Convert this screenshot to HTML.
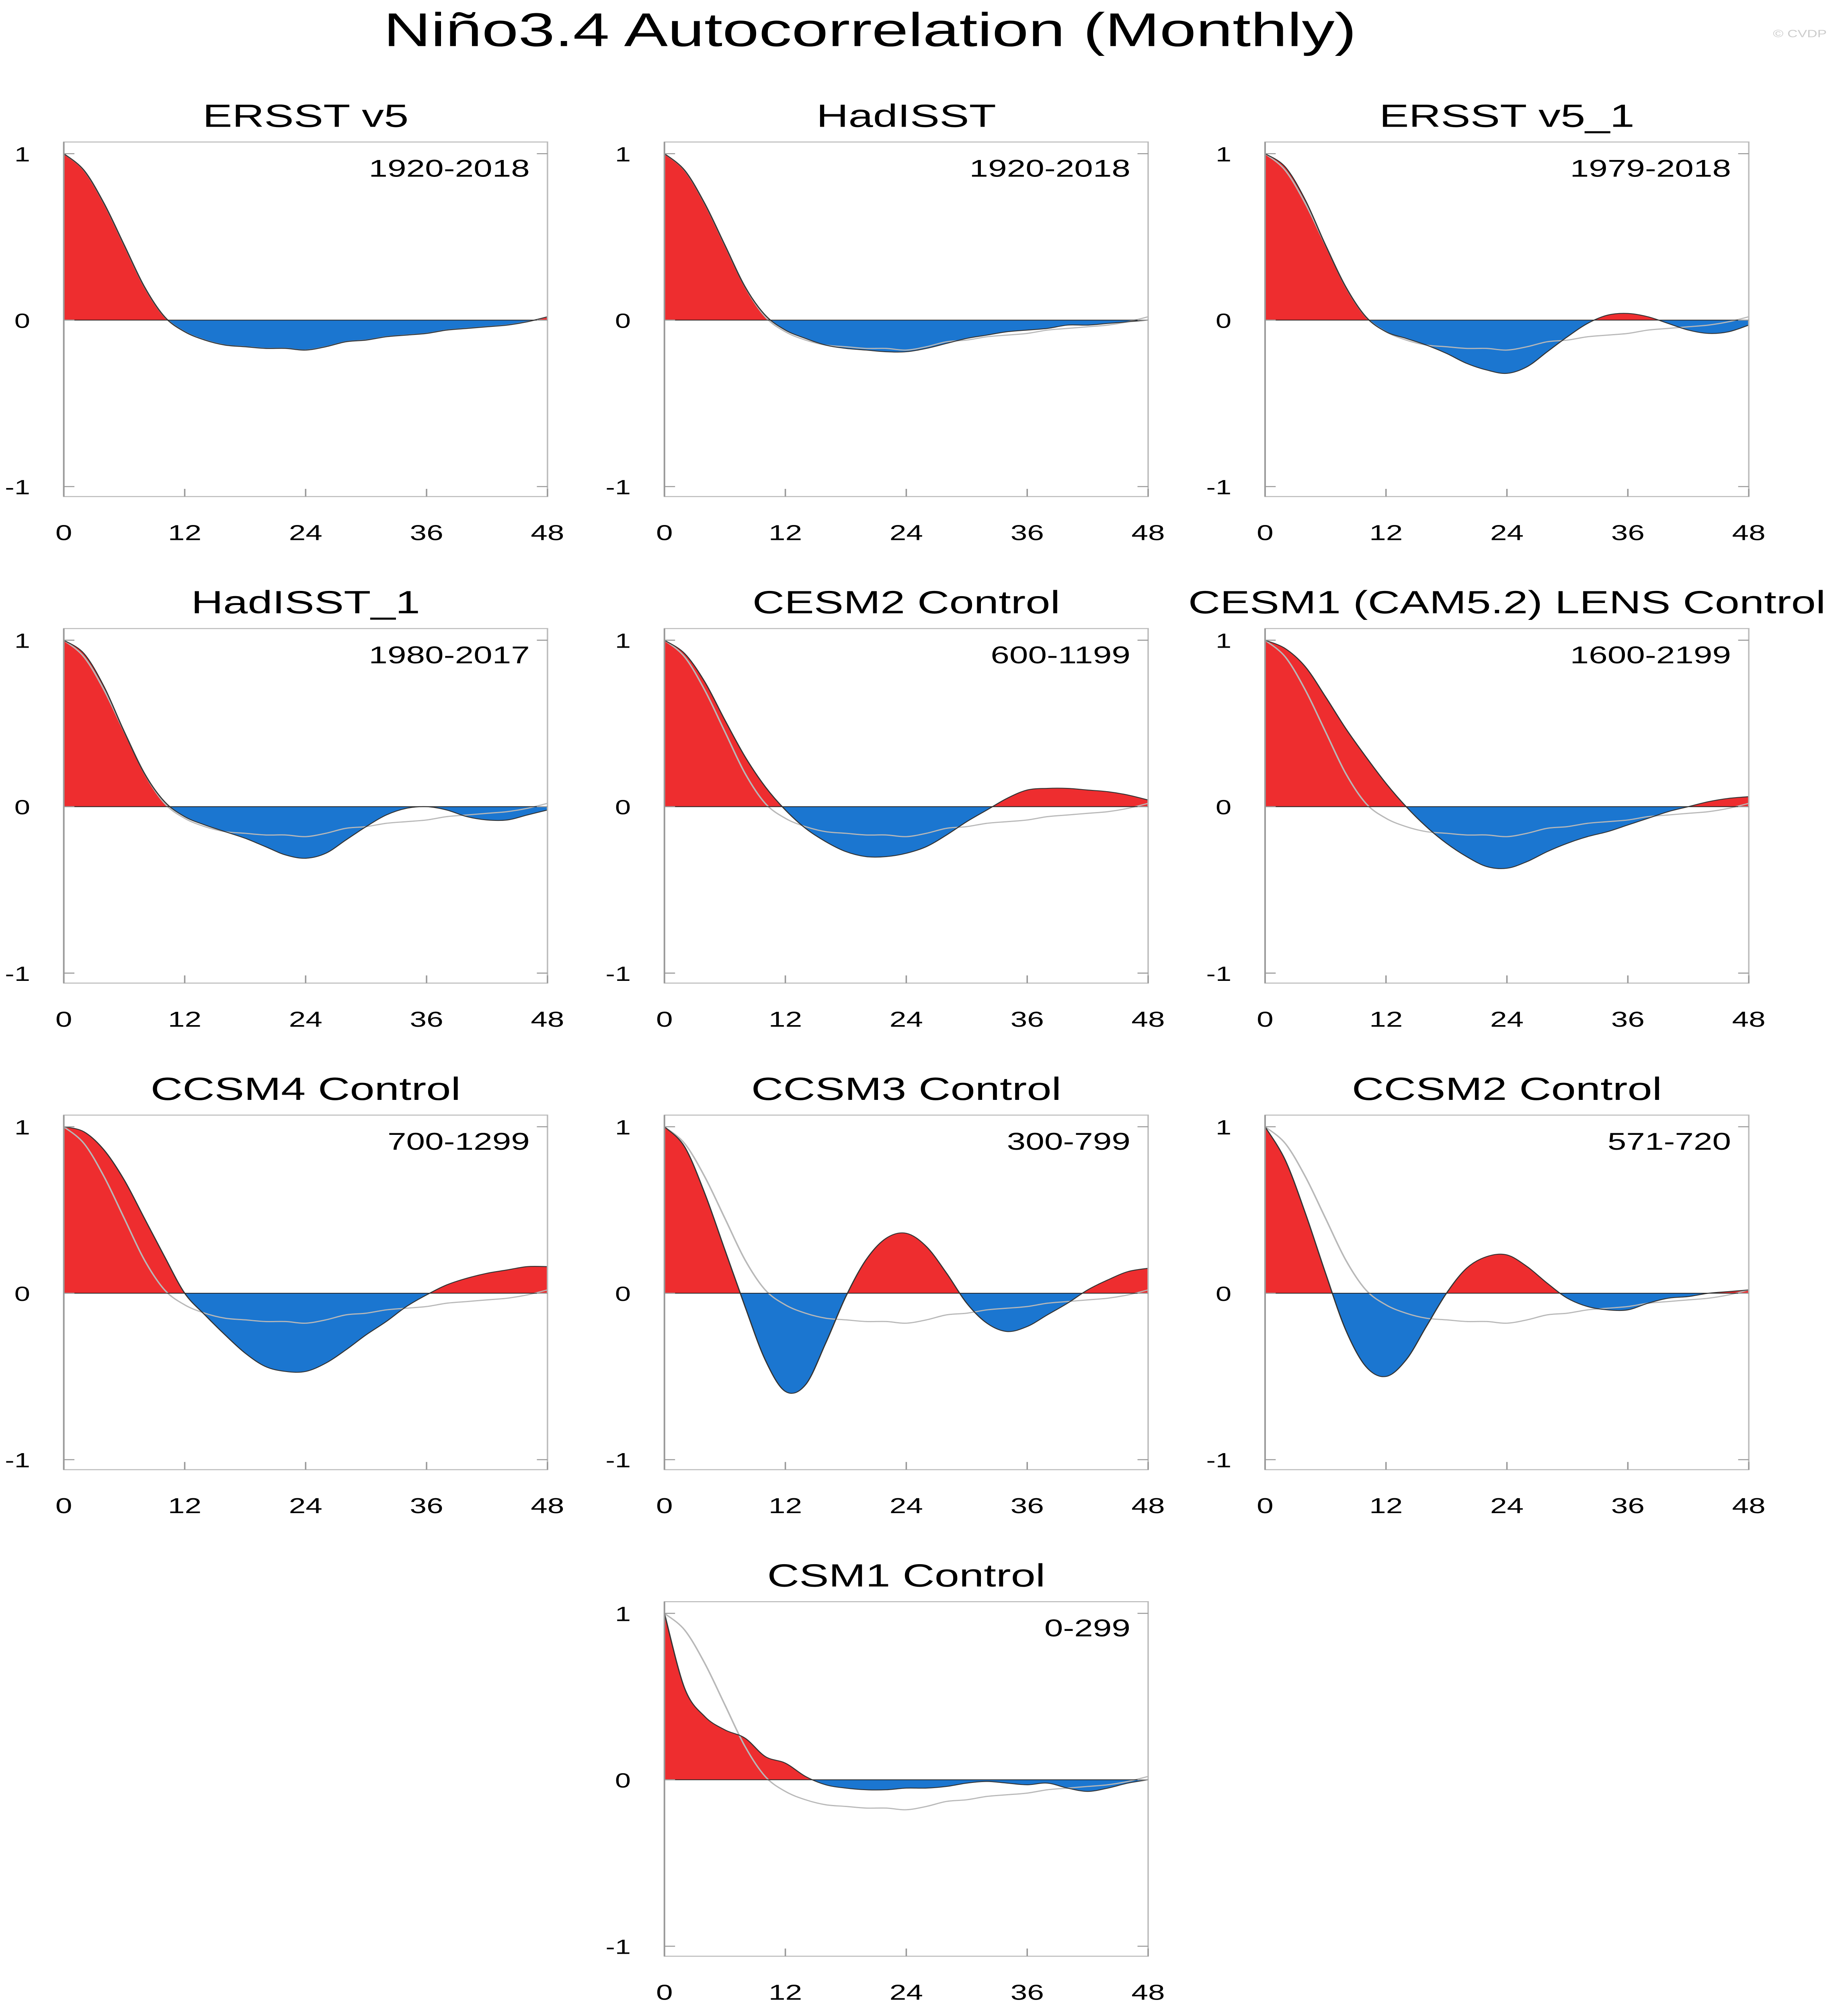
<!DOCTYPE html>
<html><head><meta charset="utf-8"><style>
html,body{margin:0;padding:0;background:#fff;overflow:hidden}
svg{display:block;width:100vw;height:100vh}
text{font-family:"Liberation Sans",sans-serif}
</style></head><body>
<svg id="chart" xmlns="http://www.w3.org/2000/svg" viewBox="0 0 1043 1569.8" preserveAspectRatio="none">
<rect width="1043" height="1569.8" fill="#fff"/>
<text x="491" y="36" font-size="37" text-anchor="middle" fill="#000">Niño3.4 Autocorrelation (Monthly)</text>
<text x="1031" y="29" font-size="8" text-anchor="end" fill="#ccc">© CVDP</text>
<g id="panels"></g>
</svg>
<script>
const lags = [0,2,4,6,8,10,12,14,16,18,20,22,24,26,28,30,32,34,36,38,40,42,44,46,48];
const titles = ["ERSST v5","HadISST","ERSST v5_1","HadISST_1","CESM2 Control","CESM1 (CAM5.2) LENS Control","CCSM4 Control","CCSM3 Control","CCSM2 Control","CSM1 Control"];
const periods = ["1920-2018","1920-2018","1979-2018","1980-2017","600-1199","1600-2199","700-1299","300-799","571-720","0-299"];
const obsRef = [1,0.9,0.7,0.45,0.2,0.02,-0.07,-0.12,-0.15,-0.16,-0.17,-0.17,-0.18,-0.16,-0.13,-0.12,-0.10,-0.09,-0.08,-0.06,-0.05,-0.04,-0.03,-0.01,0.02];
const sErsst = [1,0.9,0.7,0.45,0.2,0.02,-0.07,-0.12,-0.15,-0.16,-0.17,-0.17,-0.18,-0.16,-0.13,-0.12,-0.10,-0.09,-0.08,-0.06,-0.05,-0.04,-0.03,-0.01,0.02];
const sHad = [1,0.9,0.7,0.45,0.2,0.03,-0.06,-0.11,-0.15,-0.17,-0.18,-0.19,-0.19,-0.17,-0.14,-0.11,-0.09,-0.07,-0.06,-0.05,-0.03,-0.03,-0.02,-0.01,0];
const sErsst1 = [1,0.92,0.72,0.45,0.2,0.02,-0.07,-0.11,-0.15,-0.2,-0.26,-0.3,-0.32,-0.28,-0.19,-0.1,-0.02,0.03,0.04,0.02,-0.02,-0.06,-0.08,-0.07,-0.03];
const sHad1 = [1,0.92,0.72,0.45,0.2,0.03,-0.06,-0.11,-0.15,-0.19,-0.24,-0.29,-0.31,-0.28,-0.2,-0.12,-0.05,-0.01,0,-0.02,-0.06,-0.08,-0.08,-0.05,-0.02];
const sCesm2 = [1,0.92,0.75,0.52,0.3,0.12,-0.02,-0.13,-0.21,-0.27,-0.3,-0.3,-0.28,-0.24,-0.17,-0.09,-0.02,0.05,0.1,0.11,0.11,0.1,0.09,0.07,0.04];
const sCesm1 = [1,0.95,0.84,0.66,0.47,0.3,0.14,0.0,-0.12,-0.22,-0.3,-0.36,-0.37,-0.33,-0.27,-0.22,-0.18,-0.15,-0.11,-0.07,-0.03,0,0.03,0.05,0.06];
const sCcsm4 = [1,0.97,0.86,0.68,0.45,0.22,0.0,-0.13,-0.25,-0.36,-0.44,-0.47,-0.47,-0.42,-0.34,-0.25,-0.17,-0.08,-0.01,0.05,0.09,0.12,0.14,0.16,0.16];
const sCcsm3 = [1,0.88,0.6,0.26,-0.08,-0.4,-0.59,-0.55,-0.3,-0.02,0.2,0.33,0.36,0.28,0.12,-0.06,-0.18,-0.23,-0.2,-0.13,-0.06,0.02,0.08,0.13,0.15];
const sCcsm2 = [1,0.8,0.48,0.12,-0.22,-0.44,-0.5,-0.4,-0.2,0.0,0.15,0.22,0.23,0.16,0.06,-0.03,-0.08,-0.1,-0.1,-0.06,-0.03,-0.02,0,0.01,0.02];
const sCsm1 = [1,0.55,0.38,0.3,0.25,0.14,0.1,0.02,-0.03,-0.05,-0.06,-0.06,-0.05,-0.05,-0.04,-0.02,-0.01,-0.02,-0.03,-0.02,-0.05,-0.07,-0.05,-0.02,0];
const series = [sErsst,sHad,sErsst1,sHad1,sCesm2,sCesm1,sCcsm4,sCcsm3,sCcsm2,sCsm1];
const xTicks = [0,12,24,36,48];
const yTicks = [1,0,-1];

const NS="http://www.w3.org/2000/svg";
const root=document.getElementById('panels');
const colX=[36,375,714], rowY0=[250,630,1010,1390], W=273, H=130;
function mk(tag,attrs,parent){const e=document.createElementNS(NS,tag);for(const k in attrs)e.setAttribute(k,attrs[k]);parent.appendChild(e);return e;}
function curvePath(xs,ys){
  let d=`M${xs[0]},${ys[0]}`;
  for(let i=0;i<xs.length-1;i++){
    const x0=xs[Math.max(i-1,0)],y0=ys[Math.max(i-1,0)],x1=xs[i],y1=ys[i],x2=xs[i+1],y2=ys[i+1],x3=xs[Math.min(i+2,xs.length-1)],y3=ys[Math.min(i+2,xs.length-1)];
    d+=` C${x1+(x2-x0)/6},${y1+(y2-y0)/6} ${x2-(x3-x1)/6},${y2-(y3-y1)/6} ${x2},${y2}`;
  }
  return d;
}
series.forEach((vals,i)=>{
  const pos = i<9 ? [colX[i%3], rowY0[Math.floor(i/3)]] : [colX[1], rowY0[3]];
  const x0=pos[0], yz=pos[1];
  const sx=v=>x0+v/48*W, sy=v=>yz-v*H;
  const g=mk('g',{},root);
  
  
  const clipUp=mk('clipPath',{id:'cu'+i},g); mk('rect',{x:x0,y:yz-140,width:W,height:140},clipUp);
  const clipDn=mk('clipPath',{id:'cd'+i},g); mk('rect',{x:x0,y:yz,width:W,height:140},clipDn);
  const xs=lags.map(sx), ys=vals.map(sy);
  const line=curvePath(xs,ys);
  const area=line+` L${sx(48)},${yz} L${sx(0)},${yz} Z`;
  const up=mk('path',{d:area,fill:'#ee2d2f','clip-path':`url(#cu${i})`},g);
  
  
  const dn=mk('path',{d:area,fill:'#1b76d0','clip-path':`url(#cd${i})`},g);
  
  
  const ref=mk('path',{d:curvePath(xs,obsRef.map(sy)),fill:'none',stroke:'#b8b8b8','stroke-width':0.9},g);
  
  
  const ln=mk('path',{d:line,fill:'none',stroke:'#333','stroke-width':0.7},g);
  
  
  mk('line',{x1:x0,y1:yz,x2:x0+W,y2:yz,stroke:'#222','stroke-width':0.6},g);
  const frame=mk('rect',{x:x0,y:yz-H*1.07,width:W,height:H*2.13,fill:'none',stroke:'#bbb','stroke-width':0.8},g);
  
  
  mk('line',{x1:x0,y1:yz-H*1.07,x2:x0,y2:yz+H*1.06,stroke:'#999','stroke-width':0.9},g);
  yTicks.forEach(t=>{
    mk('line',{x1:x0,y1:sy(t),x2:x0+6,y2:sy(t),stroke:'#999','stroke-width':0.8},g);
    mk('line',{x1:x0+W,y1:sy(t),x2:x0+W-6,y2:sy(t),stroke:'#999','stroke-width':0.8},g);
    const tl=mk('text',{x:x0-19,y:sy(t)+6,'font-size':16,'text-anchor':'end',fill:'#000'},g);
    tl.textContent=t;
    
    
  });
  xTicks.forEach(t=>{
    mk('line',{x1:sx(t),y1:yz+H*1.06,x2:sx(t),y2:yz+H*1.06-6,stroke:'#999','stroke-width':0.8},g);
    const tl=mk('text',{x:sx(t),y:yz+H*1.06+34,'font-size':17,'text-anchor':'middle',fill:'#000'},g);
    tl.textContent=t;
    
    
  });
  const tt=mk('text',{x:x0+W/2,y:yz-151,'font-size':25,'text-anchor':'middle',fill:'#000'},g);
  tt.textContent=titles[i];
  
  
  const pl=mk('text',{x:x0+W-10,y:yz-112,'font-size':19,'text-anchor':'end',fill:'#000'},g);
  pl.textContent=periods[i];
  
  
});
</script>
</body></html>
